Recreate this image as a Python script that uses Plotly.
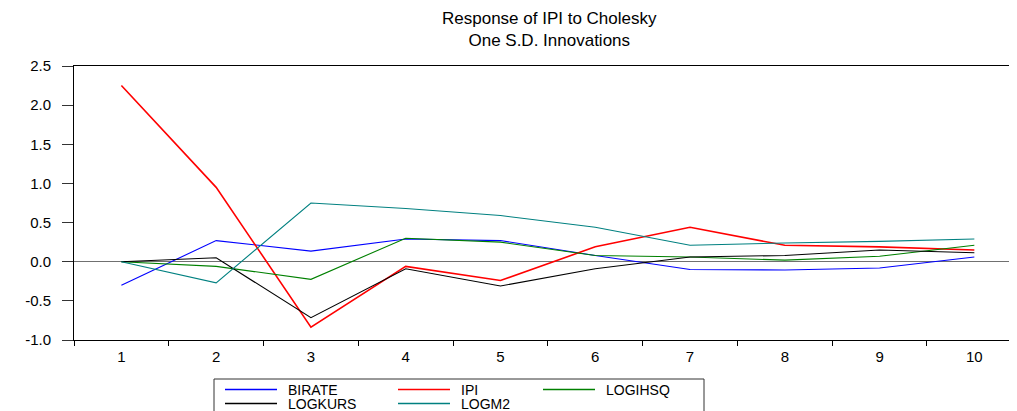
import plotly.graph_objects as go

periods = ["1", "2", "3", "4", "5", "6", "7", "8", "9", "10"]
birate = [-0.30, 0.27, 0.135, 0.29, 0.27, 0.08, -0.10, -0.105, -0.08, 0.06]
ipi = [2.25, 0.95, -0.835, -0.06, -0.24, 0.19, 0.44, 0.21, 0.19, 0.15]
logihsq = [0.0, -0.06, -0.225, 0.30, 0.25, 0.08, 0.06, 0.02, 0.07, 0.21]
logkurs = [0.0, 0.05, -0.715, -0.09, -0.31, -0.09, 0.06, 0.08, 0.15, 0.115]
logm2 = [0.0, -0.27, 0.75, 0.68, 0.59, 0.44, 0.21, 0.24, 0.26, 0.29]

ytick_vals = [-1.0, -0.5, 0.0, 0.5, 1.0, 1.5, 2.0, 2.5]
ytick_text = ["-1.0", "-0.5", "0.0", "0.5", "1.0", "1.5", "2.0", "2.5"]

series_names = ["BIRATE", "IPI", "LOGIHSQ", "LOGKURS", "LOGM2"]
series_values = [birate, ipi, logihsq, logkurs, logm2]
series_colors = ["#0000FF", "#FF0000", "#008000", "#000000", "#008080"]
series_widths = [1.1, 1.6, 1.1, 1.1, 1.1]

title_text = "Response of IPI to Cholesky<br>One S.D. Innovations"

# page offset (browser body margin) and layout geometry in window pixels
OFF = 8
WIN_W, WIN_H = 1017, 411
W, H = WIN_W - OFF, WIN_H - OFF
PLOT_L, PLOT_R, PLOT_T, PLOT_B = 74, 1017, 66, 340  # plot area in window pixels
L, T = PLOT_L - OFF, PLOT_T - OFF
R = W - (PLOT_R - OFF)
B = H - (PLOT_B - OFF)
PW, PH = PLOT_R - PLOT_L, PLOT_B - PLOT_T


def px_x(px):
    return (px - PLOT_L) / PW


def px_y(py):
    return (PLOT_B - py) / PH


font_family = "Liberation Sans, Arial, sans-serif"

fig = go.Figure()
for name, vals, color, w in zip(series_names, series_values, series_colors, series_widths):
    fig.add_trace(go.Scatter(x=periods, y=vals, mode="lines", name=name,
                             line=dict(color=color, width=w)))

shapes = []
annotations = []

# title (two lines in one text)
annotations.append(dict(text=title_text, xref="paper", yref="paper", x=px_x(549), y=px_y(29.5),
                        xanchor="center", yanchor="middle", showarrow=False, align="center",
                        font=dict(size=17, family=font_family, color="black")))

# legend box
shapes.append(dict(type="rect", xref="paper", yref="paper",
                   x0=px_x(214), x1=px_x(704), y0=px_y(379), y1=px_y(425),
                   line=dict(color="#333333", width=1), fillcolor="rgba(0,0,0,0)", layer="above"))
leg_cols = [225, 398, 543]
leg_rows = [389.5, 403.5]
for i, (name, color) in enumerate(zip(series_names, series_colors)):
    cx = leg_cols[i % 3]
    ry = leg_rows[i // 3]
    shapes.append(dict(type="line", xref="paper", yref="paper",
                       x0=px_x(cx), x1=px_x(cx + 52), y0=px_y(ry), y1=px_y(ry),
                       line=dict(color=color, width=1.4), layer="above"))
    annotations.append(dict(text=name, xref="paper", yref="paper", x=px_x(cx + 61), y=px_y(ry),
                            xanchor="left", yanchor="middle", showarrow=False,
                            font=dict(size=14, family=font_family, color="black")))

fig.update_layout(
    width=W, height=H,
    margin=dict(l=L, r=R, t=T, b=B, autoexpand=False),
    paper_bgcolor="white", plot_bgcolor="white",
    font=dict(family=font_family, color="black"),
    showlegend=False,
    shapes=shapes,
    annotations=annotations,
    xaxis=dict(type="category", categoryorder="array", categoryarray=periods,
               range=[-0.5, 9.45], tickson="boundaries", ticks="outside",
               ticklen=5, tickcolor="black", showline=True, linecolor="black",
               linewidth=1, mirror=True, showgrid=False, zeroline=False,
               ticklabelstandoff=3,
               tickfont=dict(size=15, family=font_family, color="black")),
    yaxis=dict(range=[-1.0, 2.5], tickvals=ytick_vals, ticktext=ytick_text,
               ticks="outside", ticklen=11, tickcolor="#333333",
               showline=True, linecolor="black", linewidth=1, mirror=False,
               showgrid=False, zeroline=True, zerolinecolor="#707070", zerolinewidth=1,
               ticklabelstandoff=8,
               tickfont=dict(size=15, family=font_family, color="black")),
)

fig.write_html("out.html")
